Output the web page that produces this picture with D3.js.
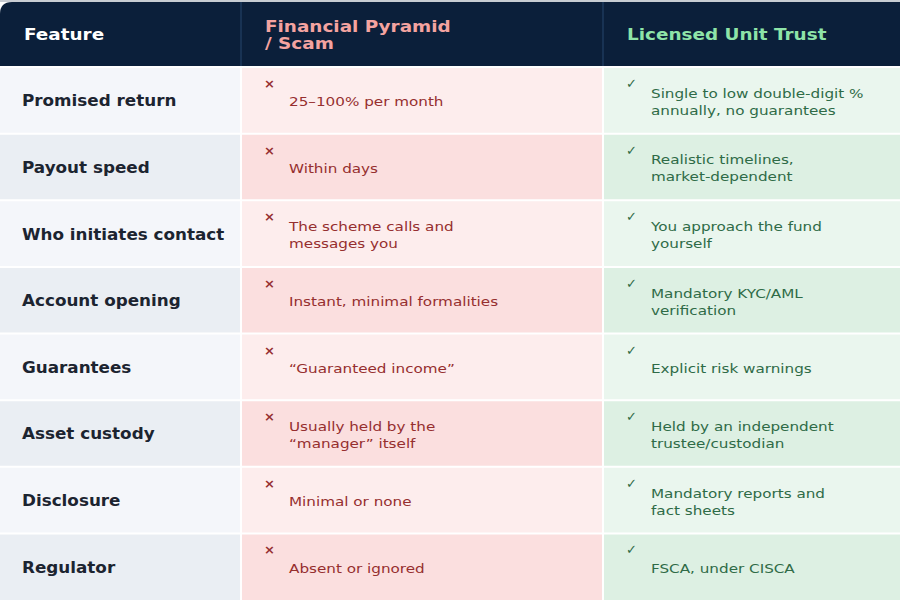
<!DOCTYPE html>
<html><head><meta charset="utf-8">
<script src="https://cdn.jsdelivr.net/npm/d3@7"></script>
<style>body{margin:0;background:#fff}</style>
</head><body>
<div id="chart"></div>
<script>
// Table content
const headers = ["Feature", "Financial Pyramid\n/ Scam", "Licensed Unit Trust"];
const features = ["Promised return", "Payout speed", "Who initiates contact", "Account opening",
  "Guarantees", "Asset custody", "Disclosure", "Regulator"];
const pyramid = ["25–100% per month", "Within days", "The scheme calls and\nmessages you",
  "Instant, minimal formalities", "“Guaranteed income”", "Usually held by the\n“manager” itself",
  "Minimal or none", "Absent or ignored"];
const trust = ["Single to low double-digit %\nannually, no guarantees", "Realistic timelines,\nmarket-dependent",
  "You approach the fund\nyourself", "Mandatory KYC/AML\nverification", "Explicit risk warnings",
  "Held by an independent\ntrustee/custodian", "Mandatory reports and\nfact sheets", "FSCA, under CISCA"];

const width = 900, height = 600, headerH = 67;
const colX = [0, 241, 603, 900];

const svg = d3.select("#chart").append("svg").attr("width", width).attr("height", height)
  .style("font-family", "DejaVu Sans");

const y = d3.scaleBand().domain(d3.range(features.length)).range([headerH, height]);

// header
svg.append("path").attr("d", `M0,${headerH}V14Q0,2 12,2H${width}V${headerH}Z`).attr("fill", "#0b1f3a");
svg.append("line").attr("x1", 0).attr("x2", width).attr("y1", 1).attr("y2", 1).attr("stroke", "#c8ccd2").attr("stroke-width", 2);
[241, 603].forEach(x => svg.append("line").attr("x1", x).attr("x2", x).attr("y1", 2).attr("y2", headerH)
  .attr("stroke", "#1e3a5c").attr("stroke-width", 1.5));
const headColors = ["#ffffff", "#f4a3a0", "#8ee4a8"];
headers.forEach((h, i) => {
  const lines = h.split("\n");
  const t = svg.append("text").attr("fill", headColors[i]).attr("font-weight", "bold").attr("font-size", 16)
    .attr("transform", `translate(${colX[i] + 24},${lines.length > 1 ? 32 : 40}) scale(1.15,1)`);
  lines.forEach((l, k) => t.append("tspan").attr("x", 0).attr("dy", k ? 17 : 0).text(l));
});

const bg = [["#f4f6fa", "#eaeef3"], ["#fdeded", "#fbdfdf"], ["#eaf6ee", "#ddf0e3"]];
const rows = svg.selectAll("g.row").data(features).join("g").attr("class", "row")
  .attr("transform", (d, i) => `translate(0,${y(i)})`);

[0, 1, 2].forEach(c => rows.append("rect").attr("x", colX[c]).attr("width", colX[c + 1] - colX[c])
  .attr("height", y.bandwidth()).attr("fill", (d, i) => bg[c][i % 2]));

rows.append("line").attr("x1", 0).attr("x2", width).attr("stroke", "#fff").attr("stroke-width", 2);
[241, 603].forEach(x => rows.append("line").attr("x1", x).attr("x2", x).attr("y2", y.bandwidth())
  .attr("stroke", "#fff").attr("stroke-width", 2));

const mid = y.bandwidth() / 2;
rows.append("text").attr("transform", `translate(22,${mid + 6}) scale(1.12,1)`)
  .attr("font-size", 15).attr("font-weight", "bold").attr("fill", "#1c2430").text(d => d);

function cell(data, x, color, mark) {
  rows.append("text").attr("x", x).attr("y", 21).attr("font-size", 13).attr("font-weight", "bold")
    .attr("fill", color).text(mark);
  rows.each(function (d, i) {
    const lines = data[i].split("\n");
    const t = d3.select(this).append("text").attr("font-size", 13).attr("fill", color)
      .attr("transform", `translate(${x + 25},${mid + 6 - (lines.length - 1) * 8.5}) scale(1.17,1)`);
    lines.forEach((l, k) => t.append("tspan").attr("x", 0).attr("dy", k ? 17 : 0).text(l));
  });
}
cell(pyramid, 264, "#962f2f", "×");
cell(trust, 626, "#2f6b47", "✓");
</script>
</body></html>
